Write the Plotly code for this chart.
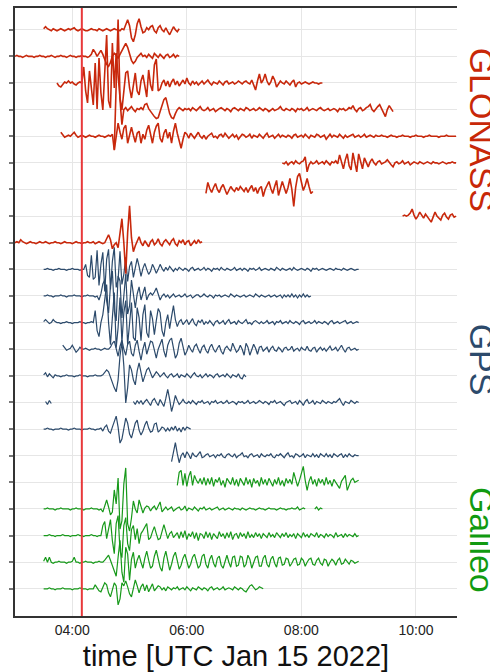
import pandas as pd
import plotly.graph_objects as go

# ---------------- data ----------------
DAY = "2022-01-15"
T_START = "03:00"          # first minute of the time axis
T_END = "10:43"
ERUPTION = "04:10"          # red marker line
X_TICKS = ["04:00", "06:00", "08:00", "10:00"]
STEP_MIN = 2                # minutes between samples
UNITS_PER_ROW = 26.6        # amplitude units that equal one row spacing

# GLONASS traces (rows 0-8); each: start minute after 03:00, amplitudes
GLO_STARTS = [30, 0, 44, 104, 48, 280, 200, 406, 0]
GLO_0 = [1,3,1,0,-1,1,0,-1,0,1,0,-1,0,1,0,1,2,0,-1,0,1,0,-1,-1,0,1,0,0,-1,1,0,-1,0,1,0,-1,0,1,0,0,-1,1,0,
         5,10,4,-8,-12,-5,6,11,3,-3,-2,2,0,3,4,-1,-3,2,4,0,-2,2,-2,-5,-1,3,0,-2,1]
GLO_1 = [0,1,0,0,-1,0,1,0,0,0,-1,0,0,1,0,0,-1,0,0,1,0,-1,0,0,1,0,0,-1,0,1,0,0,-1,0,0,1,0,0,-1,0,
         2,7,4,0,3,6,2,-4,-8,-10,-6,0,3,1,-2,2,6,10,13,9,2,-4,-7,-5,-1,1,3,0,1,-1,2,0,-2,3,1,-1,2,0,-2,1,2,-1,0,2,-1,1,0]
GLO_2 = [0,-3,-4,-1,1,0,2,0,1,-1,-2,0,1,0,
         16,-8,-20,12,-5,-22,20,-26,25,-10,-27,5,48,-18,-25,40,-5,30,5,-15,-27,-10,10,12,-5,-15,0,10,-8,-12,2,8,-3,-14,13,-2,-8,18,24,-8,-6,0,3,-3,2,
         -4,1,4,-2,2,-3,0,3,-1,5,0,-2,2,-1,1,-2,0,2,-1,1,3,0,-2,1,0,-1,2,0,-2,1,2,-1,0,1,-1,0,2,0,-1,1,
         2,0,-1,3,-2,-7,2,9,0,3,9,2,-2,1,7,3,-4,-1,2,0,-1,2,0,-2,1,3,-4,0,1,-1,0,1,0,-1,0,1,0,0,-1,0,0]
GLO_3 = [-40,35,90,10,-15,0,2,-1,1,3,0,-2,1,0,
         2,0,5,6,1,-2,-4,-7,-9,-8,-2,5,10,12,5,-4,-8,-9,-4,0,2,0,-1,1,0,
         1,-1,2,0,-1,1,3,0,-1,0,2,-1,0,1,-2,0,1,2,0,-1,1,0,-2,1,2,0,-1,1,0,-1,2,1,-1,0,1,-1,0,2,0,-1,1,0,-2,0,1,-1,0,1,
         3,0,-1,1,0,-1,1,0,-2,1,0,1,-1,0,2,-1,0,1,0,-1,1,2,0,-1,0,1,-1,0,1,0,-2,1,0,1,-1,0,2,1,
         4,0,-2,1,2,-1,0,2,3,5,0,-2,1,3,5,1,-4,-7,0,4,1,-2]
GLO_4 = [4,1,-1,0,1,0,2,4,1,-1,0,1,0,-1,0,1,0,0,-1,0,1,0,0,-1,0,1,0,2,
         -14,2,13,4,-3,8,11,-7,2,9,1,-6,3,5,-7,2,-3,6,11,0,-7,4,10,13,-2,-6,3,7,-2,4,-7,5,13,3,-4,-12,-3,4,2,-2,3,
         0,-2,1,4,0,-2,1,-3,0,2,3,-1,0,-2,1,2,-1,3,0,-2,0,2,-1,1,-3,0,2,1,-1,0,2,-2,1,0,-1,2,0,-2,1,3,-1,0,1,-2,0,2,-1,1,0,-1,
         1,0,-2,1,2,-1,0,1,-1,2,0,-2,1,0,-1,2,1,-1,0,1,-3,0,2,-1,1,0,-1,2,0,-2,1,-1,0,1,2,-1,0,1,-1,0,2,-1,0,1,0,-1,1,0,
         0,1,0,0,-1,0,1,0,0,-1,0,0,1,0,0,0,-1,0,0,1,0,0,0,-1,0,0,1,0,0,0,0,-1,0,0,0,1,0,0,0,0,0]
GLO_5 = [0,-1,1,-2,0,1,-1,2,0,-1,1,2,
         6,-9,-2,1,-1,0,2,-1,0,1,-1,2,0,-2,1,0,2,-1,
         8,0,-6,3,9,-3,-7,10,0,-9,9,2,-6,5,0,-4,1,4,0,-2,1,2,-1,0,1,3,0,-2,-4,0,
         1,-1,0,2,-1,0,1,-2,0,1,0,-1,1,0,-1,0,1,0,-1,1,0,0,-1,0,1,0,-1,0,0,1,0,0]
GLO_6 = [-4,7,1,-3,2,6,0,-3,2,5,0,-5,-1,3,0,-2,2,-1,3,0,-2,2,-3,1,4,-2,2,-4,1,3,
         -7,0,5,8,1,-4,3,9,-6,0,8,2,-4,2,11,0,-17,2,13,16,6,-1,4,11,3,-4,-2]
GLO_7 = [0,1,0,1,3,7,1,-3,0,4,1,-2,2,-1,-3,-6,-1,4,0,-2,-4,1,3,-1,-3,1,2,-1,0]
GLO_8 = [0,1,0,3,1,0,-1,0,1,0,0,-1,0,1,0,0,1,0,-1,0,0,1,0,0,-1,0,1,0,0,0,-1,0,1,0,0,-1,0,0,1,0,0,1,-1,0,1,0,-1,0,
         4,8,3,-6,-2,0,-5,10,24,0,-31,10,37,5,-9,-3,2,6,
         0,-3,2,-1,-4,1,3,-2,0,4,-1,-3,1,3,0,-2,2,4,-1,-3,2,0,3,-2,1,2,-3,0,2,-1,3,0,1]

# GPS traces (rows 9-16)
GPS_STARTS = [30, 30, 30, 50, 30, 124, 30, 164]
GPS_BLIP_START = 32          # short isolated piece on GPS row 14
GPS_BLIP = [1, -2, 2, -1]
GPS_0 = [0,0,1,0,0,-1,0,0,1,0,0,0,-1,0,0,1,0,0,0,-1,0,0,
         5,-6,-8,14,-10,-8,19,-16,5,17,-22,10,20,-20,8,22,-18,-10,18,-15,-5,12,-12,3,8,-8,
         2,11,3,-7,1,6,0,-5,-2,5,1,-4,0,5,1,-2,2,-1,3,0,-2,
         1,-1,2,0,-1,1,0,-2,1,2,-1,0,1,-1,0,2,-1,1,0,-2,1,0,1,-1,2,0,-1,1,0,-1,0,2,-1,0,1,-1,1,0,-2,1,
         0,1,-1,0,2,-1,0,1,0,-1,1,0,-1,2,0,-1,1,0,-1,0,1,-1,2,0,-1,0,1,0,-1,1,0,-2,1,0,1,-1,0,1,0,-1,
         0,1,0,-1,1,0,0,-1,1,0,-1,0,1,0,-1,0,0]
GPS_1 = [0,0,1,0,0,-1,0,0,0,1,0,0,-1,0,0,0,1,0,0,0,-1,0,0,1,0,0,0,-1,0,
         -4,2,12,16,-5,-17,10,25,-15,-25,20,15,-22,5,22,-18,-10,16,4,-12,2,9,-4,2,9,
         -4,1,3,1,4,8,2,-4,0,2,-1,1,-2,0,2,-1,0,
         1,-1,0,2,-1,0,1,-2,0,1,1,-1,0,2,0,-1,1,0,-2,1,0,1,-1,0,1,0,-1,2,0,-1,1,0,-1,0,1,-1,0,1,0,-1,
         2,0,-1,1,0,-1,0,1,-1,0,1,-1,0,1,-2,1,-1,1,-1,2,-1,1,-2,1,-1,2,-1,1,-1,0]
GPS_2 = [1,3,1,-1,0,3,1,0,0,-1,0,0,1,0,0,-1,0,0,0,1,0,0,-1,0,0,1,0,
         12,-8,-14,0,8,25,38,0,-22,5,30,-25,-5,25,-20,10,22,-22,0,20,-15,-18,15,5,-18,8,18,-10,-15,12,
         4,-12,2,14,10,-8,-14,0,8,-6,6,17,3,-4,1,3,-2,0,
         3,-2,1,4,-1,-3,2,0,3,-2,1,-1,2,0,-3,1,2,-1,0,2,-2,1,3,-1,0,1,-2,2,0,-1,1,3,-1,0,-2,1,2,0,-1,1,
         -1,0,2,-1,0,1,-2,1,0,2,-1,0,1,-1,2,0,-1,1,0,-2,1,2,-1,0,1,-1,0,2,-1,1,0,-1,1,0,-2,1,2,-1,0,1,
         -1,0,1,2,-1,0,1,-1,0,1,0]
GPS_3 = [4,1,-1,0,1,4,0,-3,-1,2,0,0,1,0,-1,0,0,1,0,0,-1,0,1,0,0,
         2,6,8,0,-7,3,9,0,-6,5,8,-4,-7,4,9,-2,-11,0,7,-5,3,8,7,-3,-9,0,6,10,-2,-8,4,9,11,2,-9,-5,6,11,2,-6,
         -2,4,0,-3,3,5,0,-4,2,4,-1,
         -4,2,5,0,-3,1,4,-2,-5,1,3,0,-2,6,2,-3,-1,4,0,-6,6,2,-6,0,5,1,-5,2,3,-2,0,2,-3,1,3,-1,-2,2,0,-3,
         1,2,-1,0,3,-2,0,1,-2,2,0,-1,3,-1,-2,1,2,-3,0,2,-1,1,-2,0,3,-1,0,2,-2,1,4,0,-3,1,2,-1,0,1,-1,0]
GPS_4 = [1,3,-1,2,0,-2,1,0,0,-1,0,0,1,0,0,0,-1,0,0,1,0,0,0,-1,0,0,0,1,0,0,0,1,
         3,6,4,-2,-8,-12,-16,-4,20,34,10,-27,-12,11,6,-4,-9,5,13,3,-6,0,6,8,2,-2,1,4,2,-1,1,3,0,-2,
         1,2,-1,0,2,-2,1,0,-1,2,0,-2,1,3,0,-1,1,-2,0,2,-1,1,0,-2,1,2,-1,0,1,-1,2,0,-2,1,0,-1,2,-2,-3,1,-1]
GPS_5 = [1,-2,2,-1,2,-2,1,3,0,-3,2,4,0,-3,3,0,-4,4,13,3,-9,-2,7,2,-2,0,3,0,-1,
         1,-1,2,0,-2,1,0,2,-1,0,1,-2,1,0,2,-1,0,1,-1,0,2,-1,0,1,0,-2,1,0,1,-1,0,2,-1,0,1,-1,0,2,0,-1,
         1,0,-2,1,0,2,-1,0,1,-1,-3,0,1,2,-1,0,1,-2,2,0,-3,1,3,-1,0,2,-2,1,0,-1,2,0,-1,1,0,-1,1,0,2,4,
         0,-3,1,0,-1,2,0,-1,1,0]
GPS_6 = [0,0,1,0,0,-1,0,0,0,1,0,0,0,-1,0,0,1,0,0,0,-1,0,0,0,1,0,0,-1,0,0,
         1,-2,2,4,-2,-4,2,8,13,2,-14,-10,3,11,6,-5,-9,-2,6,9,-1,-6,-2,4,8,1,-3,-2,5,6,-3,-1,2,1,-2,1,
         -2,2,-1,3,-2,1,-3,2,-1,2,1,0]
GPS_7 = [-6,5,13,2,-7,0,3,-2,4,1,-3,3,0,-1,2,4,-2,-1,1,
         2,-1,0,1,-2,1,0,2,-1,-2,1,2,0,-1,2,-2,0,1,3,-1,0,-2,1,2,-1,0,1,-2,2,0,-1,1,0,2,-1,-2,1,0,2,0,
         -2,1,3,-1,0,-2,2,1,-1,0,2,-2,1,0,-1,2,-1,1,-2,2,0,-1,2,-1,1,-2,2,0,-1,1,2,-2,1,-1,2,0,-1,1,0,0]

# Galileo traces (rows 17-21)
GAL_STARTS = [170, 30, 30, 30, 30]
GAL_0 = [-3,10,12,-3,9,-4,6,11,-3,7,2,-1,4,-2,5,-3,
         4,-2,5,-4,3,0,5,-3,2,-5,4,1,-2,5,-3,3,-4,4,0,-3,5,-2,3,-5,4,-1,2,-4,5,-2,3,-3,4,0,-4,3,-2,5,-3,2,
         -4,4,-1,3,-2,
         10,3,-4,2,8,16,2,-8,1,6,-2,3,-4,4,-1,3,-3,5,-2,2,-4,3,0,-3,-6,1,4,7,-8,-3,2,4,0,1,2]
GAL_1 = [0,0,1,0,0,0,-1,0,0,1,0,0,0,0,-1,0,0,1,0,0,0,-1,0,0,0,1,0,0,0,-1,0,
         -3,3,9,2,-6,-3,19,5,31,-20,-12,25,41,-15,-22,-9,8,0,-4,9,3,-4,1,3,2,-2,1,3,-1,4,7,-3,0,2,-1,1,2,-2,0,1,
         2,-1,0,3,-2,1,0,-1,2,0,-2,1,0,2,-1,0,1,-1,0,1,2,-1,0,1,-1,0,1,0,-1,1,0,0,-1,1,0,-1,0,1,0,0,
         -1,0,1,0,0,-1,0,1,0,0,0,-1,0,1,0,0,-1,0,0,1,0,0,2,-1,0,1,0,
         None,None,None,None,0,2,-1,1,0]
GAL_2 = [0,0,0,1,0,0,-1,0,0,0,1,0,0,0,-1,0,0,0,1,0,0,-1,0,0,0,1,0,0,-1,0,0,
         10,14,-3,8,16,-5,-18,12,20,-15,-22,10,18,-8,-15,6,10,-4,7,-8,2,5,8,12,-4,-2,4,9,2,-4,-3,5,11,4,-3,2,4,-2,1,3,
         -3,4,-2,5,-4,2,-1,4,-3,3,-5,2,1,-3,4,-2,3,-4,2,0,-3,4,-1,2,-3,3,-2,4,-4,1,2,-3,3,-1,2,-3,4,-2,1,-2,
         3,-1,2,-3,2,0,-2,3,-1,1,-2,3,0,-2,2,-1,3,-2,1,-1,2,-3,2,0,-2,3,-1,1,-2,2,0,-1,3,-2,1,0,-2,2,-1,1,
         0,-2,3,-1,0,1,-2,2,-1,1,0,-1,2,-1,0]
GAL_3 = [1,5,0,5,0,-1,0,0,1,0,0,0,-1,0,0,1,5,0,0,-1,0,0,1,0,0,0,-1,0,0,1,0,0,
         2,4,7,2,-4,-8,-14,5,22,-10,-20,15,8,-18,3,10,-6,2,7,0,-6,4,11,2,-6,-4,6,12,2,-5,-9,4,11,3,-8,-2,6,10,0,
         -7,-3,4,8,1,-6,-2,5,8,0,-6,-3,6,8,-2,-6,3,7,-1,-5,4,6,-3,-6,2,7,0,-5,5,6,-4,-3,6,5,-5,-2,7,3,-6,0,
         5,6,-4,-4,4,7,-2,-5,3,6,-1,-5,4,5,-3,-2,4,3,-4,-1,3,4,-3,-2,4,2,-4,0,3,4,-2,-3,2,4,-1,-3,3,2,-4,0,
         3,1,-3,2,4,-2,-1,3,0,-2,2,1,-1,0,1]
GAL_4 = [0,0,0,1,0,0,-1,0,0,0,1,0,0,0,0,-1,0,0,0,1,0,0,0,-1,0,0,0,
         4,1,-2,-3,2,6,4,-4,-8,-2,6,3,-16,-10,6,3,8,2,-5,-8,2,9,3,-4,2,5,-2,4,-3,2,5,-2,0,3,2,-1,1,-2,2,0,-1,1,0,2,
         -1,0,1,-1,2,0,-2,1,0,-1,2,0,-1,1,0,-2,1,2,-1,0,1,-1,0,2,-1,0,1,0,-1,2,0,-1,1,0,-2,-3,0,3,4,1,-1,0,2,1,0]

CONSTELLATIONS = ["GLONASS", "GPS", "Galileo"]
LABEL_ROW = [3.76, 12.4, 19.17]   # row position of the side labels
N_ROWS = 22

# ---------------- figure ----------------
COLORS = {"GLONASS": "#c8280c", "GPS": "#2c4a6b", "Galileo": "#17991a"}
LABEL_COLORS = {"GLONASS": "#c82808", "GPS": "#2c4a6b", "Galileo": "#119a11"}
WIDTHS = {"GLONASS": 1.6, "GPS": 1.2, "Galileo": 1.2}

t0 = pd.Timestamp(f"{DAY} {T_START}")


def times(start, n):
    return [t0 + pd.Timedelta(minutes=start + STEP_MIN * i) for i in range(n)]


def ys(row, vals):
    return [None if v is None else -row + v / UNITS_PER_ROW for v in vals]


series = []  # (constellation, row, start, values)
glo = [GLO_0, GLO_1, GLO_2, GLO_3, GLO_4, GLO_5, GLO_6, GLO_7, GLO_8]
gps = [GPS_0, GPS_1, GPS_2, GPS_3, GPS_4, GPS_5, GPS_6, GPS_7]
gal = [GAL_0, GAL_1, GAL_2, GAL_3, GAL_4]
row = 0
for vals, st in zip(glo, GLO_STARTS):
    series.append(("GLONASS", row, st, vals)); row += 1
for k, (vals, st) in enumerate(zip(gps, GPS_STARTS)):
    if k == 5:
        series.append(("GPS", row, GPS_BLIP_START, GPS_BLIP))
    series.append(("GPS", row, st, vals)); row += 1
for vals, st in zip(gal, GAL_STARTS):
    series.append(("Galileo", row, st, vals)); row += 1

fig = go.Figure()
order = [s for s in series if s[0] == "GPS"] + [s for s in series if s[0] == "Galileo"] + \
        [s for s in series if s[0] == "GLONASS"]
for con, r, st, vals in order:
    fig.add_trace(go.Scatter(
        x=times(st, len(vals)), y=ys(r, vals), mode="lines",
        line=dict(color=COLORS[con], width=WIDTHS[con]),
        showlegend=False, hoverinfo="skip"))

fig.add_shape(type="line", xref="x", yref="paper",
              x0=pd.Timestamp(f"{DAY} {ERUPTION}"), x1=pd.Timestamp(f"{DAY} {ERUPTION}"),
              y0=0, y1=1, line=dict(color="#e8383a", width=2), layer="above")

for con, lr in zip(CONSTELLATIONS, LABEL_ROW):
    fig.add_annotation(text=con, xref="paper", yref="y", x=1.057, y=-lr,
                       xanchor="center", yanchor="middle", textangle=90, showarrow=False,
                       font=dict(family="Liberation Sans, Arial", size=34, color=LABEL_COLORS[con]))

fig.update_layout(
    width=490, height=672,
    margin=dict(l=15, r=33, t=8, b=56, autoexpand=False),
    plot_bgcolor="white", paper_bgcolor="white",
    font=dict(family="Liberation Sans, Arial", color="#222"),
    showlegend=False,
)
fig.update_xaxes(
    type="date",
    range=[pd.Timestamp(f"{DAY} {T_START}"), pd.Timestamp(f"{DAY} {T_END}")],
    tickvals=[pd.Timestamp(f"{DAY} {t}") for t in X_TICKS],
    ticktext=X_TICKS,
    showline=True, linecolor="#333", linewidth=1.5, mirror=True,
    showgrid=True, gridcolor="#e6e6e6", gridwidth=1,
    ticks="", ticklen=0, ticklabelstandoff=0, tickfont=dict(size=14, color="#222"),
    title=dict(text="time [UTC Jan 15 2022]", font=dict(size=29, color="#111"), standoff=16),
    zeroline=False, automargin=False,
)
fig.update_yaxes(
    range=[-(N_ROWS - 1) - 1.02, 0.816],
    tickvals=[-r for r in range(N_ROWS)],
    showticklabels=False,
    ticks="outside", ticklen=4, tickwidth=1.5, tickcolor="#777",
    showline=True, linecolor="#333", linewidth=1.5, mirror=False,
    showgrid=True, gridcolor="#e6e6e6", gridwidth=1,
    zeroline=False, automargin=False,
)

fig.write_html(
    "out.html",
    config={"displayModeBar": False},
    post_script="document.body.style.margin='0';document.body.style.overflow='hidden';",
)
